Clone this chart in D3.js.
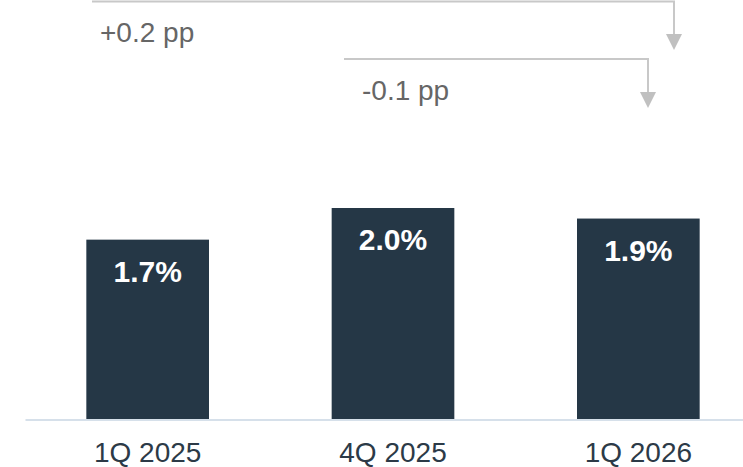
<!DOCTYPE html>
<html>
<script src='https://d3js.org/d3.v7.min.js'></script>
<style>
  body {margin: 0; background: #fff;}
  text {font-family: 'Liberation Sans', Arial, sans-serif;}
</style>
<body onload='init()'>
<svg width=743 height=467></svg>
<script>
var quarters = ['1Q 2025', '4Q 2025', '1Q 2026'];
var rates = [1.7, 2.0, 1.9];
var rateLabels = ['1.7%', '2.0%', '1.9%'];
// bracket annotations: from bar -> to bar
var deltaFrom = ['1Q 2025', '4Q 2025'];
var deltaTo = ['1Q 2026', '1Q 2026'];
var deltaLabels = ['+0.2 pp', '-0.1 pp'];

function init() {
  var svg = d3.select('svg');
  var xs = d3.scaleBand().domain(quarters).range([25, 761]).paddingInner(0.5).paddingOuter(0.25);
  var ys = d3.scaleLinear().domain([0, 2.0]).range([419, 208]);

  svg.append('g')
    .selectAll('rect')
    .data(rates)
    .enter()
    .append('rect')
      .attr('x', function(d, i){return xs(quarters[i]);})
      .attr('y', function(d){return ys(d);})
      .attr('width', xs.bandwidth())
      .attr('height', function(d){return ys(0) - ys(d);})
      .attr('fill', '#253746');

  svg.append('g')
    .selectAll('text')
    .data(rates)
    .enter()
    .append('text')
      .attr('x', function(d, i){return xs(quarters[i]) + xs.bandwidth()/2;})
      .attr('y', function(d){return ys(d) + 42;})
      .attr('text-anchor', 'middle')
      .attr('font-size', 30)
      .attr('font-weight', 'bold')
      .attr('fill', '#fff')
      .text(function(d, i){return rateLabels[i];});

  var ax = svg.append('g')
    .attr('transform', 'translate(0,419.5)')
    .call(d3.axisBottom(xs).tickSize(0).tickPadding(23));
  ax.select('.domain').attr('stroke', '#d6e0ea').attr('stroke-width', 2);
  ax.selectAll('text')
    .attr('font-size', 28)
    .attr('fill', '#2c3a47')
    .style('font-family', "'Liberation Sans', Arial, sans-serif");

  // brackets
  var starts = [92, 344];
  var rows = [1.5, 59];
  var ends = [674, 648];
  var tips = [50, 108];
  var labelX = [100, 362];
  var labelY = [42, 100];
  var g = svg.append('g');
  deltaLabels.forEach(function(lbl, i) {
    var x1 = ends[i];
    g.append('path')
      .attr('d', 'M' + starts[i] + ',' + rows[i] + 'H' + x1 + 'V' + (tips[i] - 14))
      .attr('fill', 'none')
      .attr('stroke', '#c8c8c8')
      .attr('stroke-width', 2);
    g.append('path')
      .attr('d', 'M' + (x1 - 8) + ',' + (tips[i] - 16) + 'L' + (x1 + 8) + ',' + (tips[i] - 16) + 'L' + x1 + ',' + tips[i] + 'Z')
      .attr('fill', '#c0c0c0');
    g.append('text')
      .attr('x', labelX[i])
      .attr('y', labelY[i])
      .attr('font-size', 28)
      .attr('fill', '#666')
      .text(lbl);
  });
}
</script>
</body>
</html>
